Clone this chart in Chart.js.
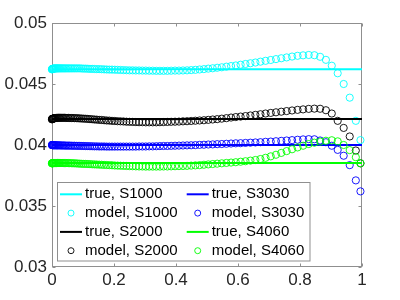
<!DOCTYPE html>
<html lang="en">
<head>
  <meta charset="UTF-8" />
  <title>true vs model</title>
  <script src="https://cdn.jsdelivr.net/npm/chart.js"></script>
  <style>
    html, body { margin: 0; padding: 0; background: #fff; }
  </style>
</head>
<body>
  <canvas id="grafico" width="400" height="300"></canvas>
  <script>
    const seriesNames = ['S1000', 'S2000', 'S3030', 'S4060'];
    const seriesColors = ['#00ffff', '#000000', '#0000ff', '#00ff00'];
    const trueValues = [0.0462, 0.04213, 0.04, 0.03852];

    const xGrid = [
      0, 0.0001, 0.0004, 0.0009, 0.0016, 0.0025, 0.0036, 0.0049, 0.0064, 0.0081,
      0.01, 0.0121, 0.0144, 0.0169, 0.0196, 0.0225, 0.0256, 0.0289, 0.0324, 0.0361,
      0.04, 0.0441, 0.0484, 0.0529, 0.0576, 0.0625, 0.0676, 0.0729, 0.0784, 0.0841,
      0.09, 0.0961, 0.1024, 0.1089, 0.1156, 0.1225, 0.1296, 0.1369, 0.1444, 0.1521,
      0.16, 0.1681, 0.1764, 0.1849, 0.1936, 0.2025, 0.2116, 0.2209, 0.2304, 0.2401,
      0.25, 0.2601, 0.2704, 0.2809, 0.2916, 0.3025, 0.3136, 0.3249, 0.3364, 0.3481,
      0.36, 0.3721, 0.3844, 0.3969, 0.4096, 0.4225, 0.4356, 0.4489, 0.4624, 0.4761,
      0.49, 0.5041, 0.5184, 0.5329, 0.5476, 0.5625, 0.5776, 0.5929, 0.6084, 0.6241,
      0.64, 0.6561, 0.6724, 0.6889, 0.7056, 0.7225, 0.7396, 0.7569, 0.7744, 0.7921,
      0.81, 0.8281, 0.8464, 0.8649, 0.8836, 0.9025, 0.9216, 0.9409, 0.9604, 0.9801,
      0.995
    ];
    const modelS1000 = [
      0.04620, 0.04621, 0.04622, 0.04623, 0.04624, 0.04625, 0.04625, 0.04626, 0.04626, 0.04627,
      0.04627, 0.04628, 0.04628, 0.04628, 0.04628, 0.04628, 0.04628, 0.04628, 0.04628, 0.04628,
      0.04628, 0.04628, 0.04628, 0.04628, 0.04628, 0.04628, 0.04628, 0.04628, 0.04628, 0.04628,
      0.04628, 0.04627, 0.04626, 0.04626, 0.04625, 0.04624, 0.04624, 0.04623, 0.04622, 0.04622,
      0.04621, 0.04620, 0.04619, 0.04618, 0.04618, 0.04617, 0.04616, 0.04615, 0.04614, 0.04613,
      0.04612, 0.04612, 0.04611, 0.04611, 0.04610, 0.04610, 0.04609, 0.04609, 0.04608, 0.04608,
      0.04608, 0.04608, 0.04609, 0.04610, 0.04610, 0.04611, 0.04612, 0.04614, 0.04616, 0.04619,
      0.04622, 0.04626, 0.04629, 0.04633, 0.04637, 0.04642, 0.04647, 0.04652, 0.04658, 0.04664,
      0.04670, 0.04676, 0.04683, 0.04690, 0.04697, 0.04704, 0.04711, 0.04718, 0.04725, 0.04731,
      0.04735, 0.04738, 0.04736, 0.04723, 0.04698, 0.04650, 0.04588, 0.04500, 0.04388, 0.04198,
      0.04040
    ];
    const modelS2000 = [
      0.04210, 0.04212, 0.04213, 0.04214, 0.04215, 0.04216, 0.04217, 0.04218, 0.04219, 0.04220,
      0.04220, 0.04221, 0.04222, 0.04222, 0.04223, 0.04223, 0.04223, 0.04223, 0.04223, 0.04223,
      0.04223, 0.04222, 0.04222, 0.04222, 0.04221, 0.04221, 0.04221, 0.04220, 0.04220, 0.04219,
      0.04218, 0.04217, 0.04216, 0.04215, 0.04214, 0.04212, 0.04211, 0.04209, 0.04208, 0.04206,
      0.04205, 0.04203, 0.04201, 0.04200, 0.04198, 0.04197, 0.04195, 0.04194, 0.04193, 0.04191,
      0.04190, 0.04189, 0.04188, 0.04187, 0.04187, 0.04186, 0.04186, 0.04186, 0.04186, 0.04187,
      0.04188, 0.04189, 0.04190, 0.04191, 0.04192, 0.04194, 0.04195, 0.04197, 0.04199, 0.04201,
      0.04203, 0.04206, 0.04209, 0.04212, 0.04216, 0.04220, 0.04225, 0.04229, 0.04233, 0.04237,
      0.04242, 0.04247, 0.04252, 0.04258, 0.04263, 0.04268, 0.04273, 0.04278, 0.04283, 0.04288,
      0.04292, 0.04296, 0.04298, 0.04297, 0.04285, 0.04258, 0.04198, 0.04140, 0.04070, 0.03955,
      0.03850
    ];
    const modelS3030 = [
      0.04000, 0.04000, 0.04000, 0.03999, 0.03999, 0.03999, 0.03999, 0.03998, 0.03998, 0.03998,
      0.03998, 0.03998, 0.03997, 0.03997, 0.03997, 0.03997, 0.03997, 0.03996, 0.03996, 0.03996,
      0.03996, 0.03995, 0.03995, 0.03995, 0.03995, 0.03994, 0.03994, 0.03994, 0.03993, 0.03993,
      0.03993, 0.03992, 0.03992, 0.03991, 0.03991, 0.03990, 0.03990, 0.03989, 0.03989, 0.03988,
      0.03988, 0.03988, 0.03987, 0.03987, 0.03987, 0.03987, 0.03987, 0.03987, 0.03987, 0.03987,
      0.03987, 0.03987, 0.03987, 0.03988, 0.03988, 0.03988, 0.03989, 0.03989, 0.03990, 0.03991,
      0.03992, 0.03992, 0.03993, 0.03994, 0.03995, 0.03996, 0.03997, 0.03998, 0.03999, 0.04001,
      0.04002, 0.04004, 0.04005, 0.04007, 0.04008, 0.04010, 0.04012, 0.04014, 0.04015, 0.04017,
      0.04019, 0.04021, 0.04023, 0.04026, 0.04028, 0.04031, 0.04034, 0.04037, 0.04040, 0.04043,
      0.04046, 0.04048, 0.04047, 0.04037, 0.04023, 0.03994, 0.03960, 0.03912, 0.03835, 0.03710,
      0.03620
    ];
    const modelS4060 = [
      0.03850, 0.03850, 0.03850, 0.03851, 0.03851, 0.03851, 0.03851, 0.03852, 0.03852, 0.03852,
      0.03852, 0.03852, 0.03852, 0.03853, 0.03853, 0.03853, 0.03853, 0.03853, 0.03853, 0.03852,
      0.03852, 0.03852, 0.03852, 0.03852, 0.03851, 0.03851, 0.03850, 0.03850, 0.03849, 0.03848,
      0.03847, 0.03846, 0.03845, 0.03845, 0.03844, 0.03843, 0.03842, 0.03841, 0.03840, 0.03839,
      0.03838, 0.03837, 0.03836, 0.03835, 0.03834, 0.03832, 0.03831, 0.03830, 0.03829, 0.03828,
      0.03827, 0.03826, 0.03825, 0.03824, 0.03824, 0.03823, 0.03823, 0.03823, 0.03823, 0.03823,
      0.03824, 0.03824, 0.03825, 0.03826, 0.03827, 0.03828, 0.03829, 0.03831, 0.03833, 0.03835,
      0.03838, 0.03841, 0.03844, 0.03847, 0.03850, 0.03853, 0.03856, 0.03859, 0.03863, 0.03867,
      0.03872, 0.03877, 0.03885, 0.03895, 0.03907, 0.03920, 0.03935, 0.03950, 0.03965, 0.03980,
      0.03994, 0.04008, 0.04019, 0.04028, 0.04035, 0.04039, 0.04030, 0.04000, 0.03958, 0.03900,
      0.03850
    ];

    const xTicks = [0, 0.2, 0.4, 0.6, 0.8, 1];
    const xTickLabels = ['0', '0.2', '0.4', '0.6', '0.8', '1'];
    const yTicks = [0.03, 0.035, 0.04, 0.045, 0.05];
    const yTickLabels = ['0.03', '0.035', '0.04', '0.045', '0.05'];

    const modelSeries = [modelS1000, modelS2000, modelS3030, modelS4060];
    const fuente = "'Liberation Sans', Arial, sans-serif";
    const grisEje = '#8f8f8f';

    // datasets in MATLAB plot order; later ones drawn on top
    const datasets = [];
    seriesNames.forEach((name, i) => {
      datasets.push({
        type: 'line',
        label: 'true, ' + name,
        data: [{ x: xTicks[0], y: trueValues[i] }, { x: xTicks[xTicks.length - 1], y: trueValues[i] }],
        borderColor: seriesColors[i],
        borderWidth: 2,
        pointRadius: 0,
        order: 20 - 2 * i
      });
      datasets.push({
        type: 'scatter',
        label: 'model, ' + name,
        data: xGrid.map((x, k) => ({ x, y: modelSeries[i][k] })),
        showLine: false,
        pointRadius: 3.6,
        pointBorderWidth: 0.9,
        pointBorderColor: seriesColors[i],
        pointBackgroundColor: 'rgba(0,0,0,0)',
        clip: false,
        order: 19 - 2 * i
      });
    });

    // box with inward ticks on all four sides
    const cajaEjes = {
      id: 'cajaEjes',
      beforeDatasetsDraw(chart) {
        const { ctx, chartArea: a, scales: { x, y } } = chart;
        const l = Math.round(a.left) + 0.5, r = Math.round(a.right) - 0.5;
        const t = Math.round(a.top) + 0.5, b = Math.round(a.bottom) - 0.5;
        ctx.save();
        ctx.strokeStyle = grisEje;
        ctx.lineWidth = 1;
        ctx.strokeRect(l, t, r - l, b - t);
        ctx.beginPath();
        xTicks.forEach(v => {
          const px = Math.round(x.getPixelForValue(v)) + 0.5;
          ctx.moveTo(px, b); ctx.lineTo(px, b - 3);
          ctx.moveTo(px, t); ctx.lineTo(px, t + 3);
        });
        yTicks.forEach(v => {
          const py = Math.round(y.getPixelForValue(v)) + 0.5;
          ctx.moveTo(l, py); ctx.lineTo(l + 3, py);
          ctx.moveTo(r, py); ctx.lineTo(r - 3, py);
        });
        ctx.stroke();
        ctx.restore();
      }
    };

    // two-column legend inside the axes, column-major like MATLAB
    const leyenda = {
      id: 'leyenda',
      afterDraw(chart) {
        const ctx = chart.ctx;
        const ds = chart.data.datasets;
        ctx.save();
        ctx.fillStyle = '#ffffff';
        ctx.fillRect(57.5, 182.5, 252.5, 78.5);
        ctx.strokeStyle = grisEje;
        ctx.lineWidth = 1;
        ctx.strokeRect(57.5, 182.5, 252.5, 78.5);
        ctx.font = '15px ' + fuente;
        ctx.textBaseline = 'middle';
        ds.forEach((d, j) => {
          const col = Math.floor(j / 4), row = j % 4;
          const x0 = 60 + col * 126.7;
          const y0 = 194.3 + row * 18.8;
          if (d.type === 'line') {
            ctx.strokeStyle = d.borderColor;
            ctx.lineWidth = 2;
            ctx.beginPath();
            ctx.moveTo(x0, y0); ctx.lineTo(x0 + 22, y0);
            ctx.stroke();
          } else {
            ctx.strokeStyle = d.pointBorderColor;
            ctx.lineWidth = 0.9;
            ctx.beginPath();
            ctx.arc(x0 + 11, y0, 3, 0, Math.PI * 2);
            ctx.stroke();
          }
          ctx.fillStyle = '#000000';
          ctx.fillText(d.label, x0 + 25, y0);
        });
        ctx.restore();
      }
    };

    new Chart(document.getElementById('grafico'), {
      data: { datasets },
      options: {
        responsive: false,
        animation: false,
        devicePixelRatio: 1,
        layout: { padding: { left: 0, right: 38, top: 23, bottom: 0 } },
        plugins: { legend: { display: false }, tooltip: { enabled: false } },
        scales: {
          x: {
            type: 'linear',
            min: 0,
            max: 1,
            afterBuildTicks: s => { s.ticks = xTicks.map(v => ({ value: v })); },
            afterFit: s => { s.height = 33; },
            grid: { display: false, drawTicks: false },
            border: { display: false },
            ticks: {
              callback: (v, i) => xTickLabels[i],
              font: { family: fuente, size: 17 },
              color: '#262626',
              padding: 3,
              maxRotation: 0,
              autoSkip: false
            }
          },
          y: {
            type: 'linear',
            min: 0.03,
            max: 0.05,
            afterBuildTicks: s => { s.ticks = yTicks.map(v => ({ value: v })); },
            afterFit: s => { s.width = 52; },
            grid: { display: false, drawTicks: false },
            border: { display: false },
            ticks: {
              callback: (v, i) => yTickLabels[i],
              font: { family: fuente, size: 17 },
              color: '#262626',
              padding: 5,
              autoSkip: false
            }
          }
        }
      },
      plugins: [cajaEjes, leyenda]
    });
  </script>
</body>
</html>
